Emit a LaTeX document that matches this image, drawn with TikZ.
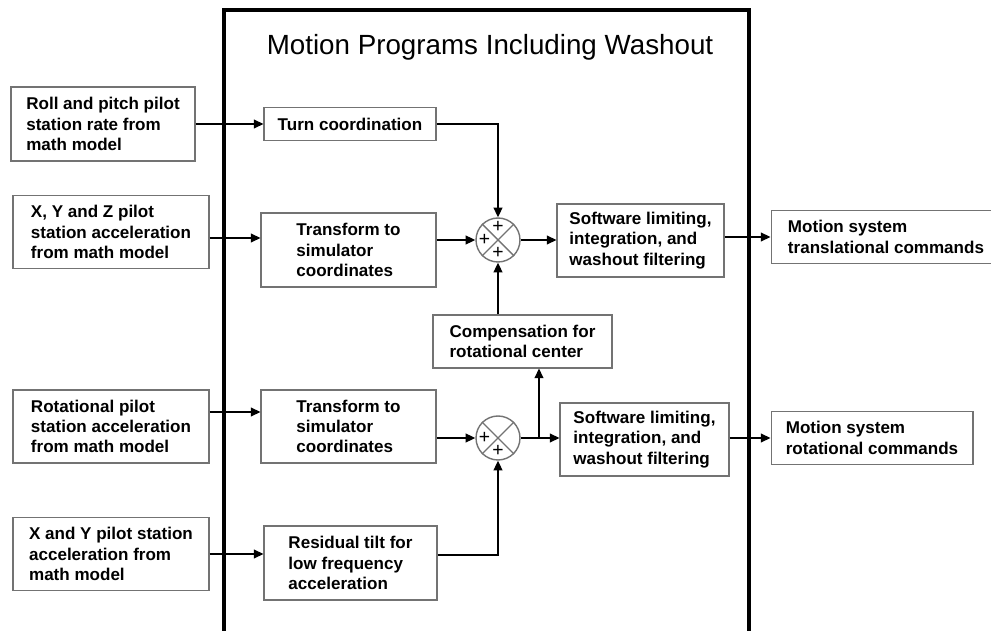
\documentclass[tikz,border=0pt]{standalone}
\usepackage{fontspec}
\setmainfont{Liberation Sans}
\usetikzlibrary{arrows.meta}

\tikzset{
    blk/.style={draw=black!55, line width=0.6pt, align=left, inner sep=0pt,
        font=\fontsize{9.7}{11.6}\selectfont\bfseries},
    arr/.style={-{Triangle[length=5.5pt,width=5pt]}, line width=0.9pt},
    summer/.style={circle, draw=black!55, line width=0.8pt, minimum size=0.88cm, inner sep=0pt},
    sgn/.style={font=\fontsize{11}{11}\selectfont, inner sep=0pt}
}

\begin{document}
\begin{tikzpicture}[x=0.02cm, y=-0.02cm]
    \useasboundingbox (0,0) rectangle (991,631);

    % Outer frame and title
    \draw[line width=1.8pt] (224,640) -- (224,10) -- (749,10) -- (749,640);
    \node[font=\fontsize{15.8}{16}\selectfont] (title) at (490,47) {Motion Programs Including Washout};

    % Inputs
    \node[blk, minimum width=3.68cm, minimum height=1.48cm] (rollin) at (103,124) {Roll and pitch pilot\\station rate from\\math model};
    \node[blk, minimum width=3.92cm, minimum height=1.46cm] (xyzin) at (111,232) {X, Y and Z pilot\\station acceleration\\from math model};
    \node[blk, minimum width=3.92cm, minimum height=1.46cm] (rotin) at (111,426.5) {Rotational pilot\\station acceleration\\from math model};
    \node[blk, minimum width=3.92cm, minimum height=1.46cm] (xyin) at (111,554) {X and Y pilot station\\acceleration from\\math model};

    % Processing blocks
    \node[blk, minimum width=3.44cm, minimum height=0.66cm] (turn) at (350,124) {Turn coordination};
    \node[blk, minimum width=3.5cm, minimum height=1.48cm] (trans1) at (348.5,250) {Transform to\\simulator\\coordinates};
    \node[blk, minimum width=3.5cm, minimum height=1.46cm] (trans2) at (348.5,426.5) {Transform to\\simulator\\coordinates};
    \node[blk, minimum width=3.46cm, minimum height=1.48cm] (tilt) at (350.5,563) {Residual tilt for\\low frequency\\acceleration};
    \node[blk, minimum width=3.58cm, minimum height=1.06cm] (comp) at (522.5,341.5) {Compensation for\\rotational center};
    \node[blk, minimum width=3.34cm, minimum height=1.46cm] (lim1) at (640.5,240.5) {Software limiting,\\integration, and\\washout filtering};
    \node[blk, minimum width=3.38cm, minimum height=1.46cm] (lim2) at (644.5,439.5) {Software limiting,\\integration, and\\washout filtering};

    % Outputs
    \node[blk, minimum width=4.6cm, minimum height=1.06cm] (transout) at (886,237) {Motion system\\translational commands};
    \node[blk, minimum width=4.04cm, minimum height=1.06cm] (rotout) at (872,438) {Motion system\\rotational commands};

    % Summing junctions
    \node[summer] (sum1) at (498,240) {};
    \node[summer] (sum2) at (498,438) {};
    \draw[black!55, line width=0.8pt] (sum1.north west) -- (sum1.south east) (sum1.north east) -- (sum1.south west);
    \draw[black!55, line width=0.8pt] (sum2.north west) -- (sum2.south east) (sum2.north east) -- (sum2.south west);
    \node[sgn] at ([yshift=0.26cm]sum1.center) {+};
    \node[sgn] at ([xshift=-0.27cm]sum1.center) {+};
    \node[sgn] at ([yshift=-0.26cm]sum1.center) {+};
    \node[sgn] at ([xshift=-0.27cm]sum2.center) {+};
    \node[sgn] at ([yshift=-0.26cm]sum2.center) {+};
    \coordinate (tap) at (539,438);

    % Arrows
    \draw[arr] (rollin.east) -- (rollin.east -| turn.west);
    \draw[arr] (turn.east) -| (sum1.north);
    \draw[arr] ([yshift=-0.12cm]xyzin.east) -- ([yshift=-0.12cm]xyzin.east -| trans1.west);
    \draw[arr] (trans1.east |- sum1) -- (sum1.west);
    \draw[arr] (comp.north -| sum1) -- (sum1.south);
    \draw[arr] (sum1.east) -- (sum1.east -| lim1.west);
    \draw[arr] (lim1.east |- transout) -- (transout.west);
    \draw[arr] ([yshift=0.29cm]rotin.east) -- ([yshift=0.29cm]trans2.west);
    \draw[arr] (trans2.east |- sum2) -- (sum2.west);
    \draw[arr] (sum2.east) -- (sum2.east -| lim2.west);
    \draw[arr] (tap) -- (tap |- comp.south);
    \draw[arr] (xyin.east) -- (xyin.east -| tilt.west);
    \draw[arr] ([yshift=0.16cm]tilt.east) -| (sum2.south);
    \draw[arr] (lim2.east |- rotout) -- (rotout.west);
\end{tikzpicture}
\end{document}
